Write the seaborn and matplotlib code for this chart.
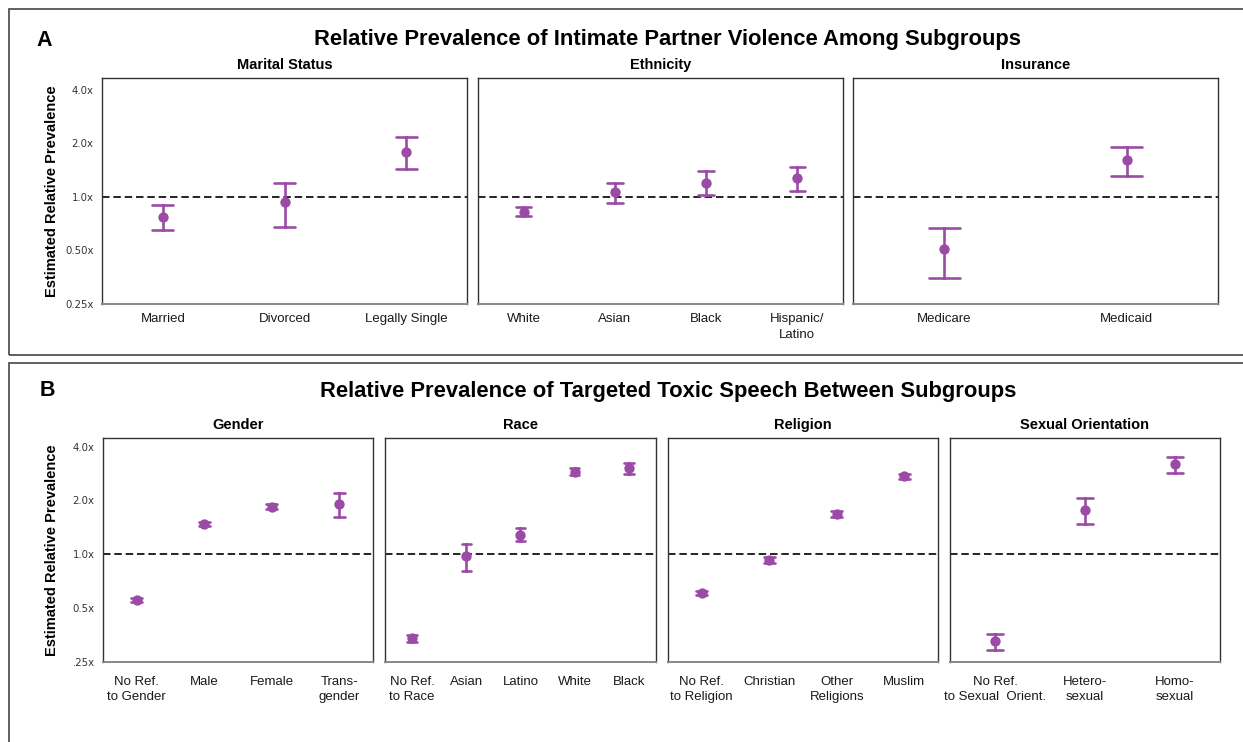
import numpy as np
import pandas as pd
import matplotlib
matplotlib.use("Agg")
import matplotlib.pyplot as plt
from matplotlib.patches import Rectangle
import seaborn as sns

# ---- data (estimate, lower bound, upper bound) ----
marital_labels = ["Married", "Divorced", "Legally Single"]
marital_est = [0.775, 0.933, 1.79]
marital_lo = [0.649, 0.675, 1.43]
marital_hi = [0.905, 1.19, 2.18]

ethnicity_labels = ["White", "Asian", "Black", "Hispanic/\nLatino"]
ethnicity_est = [0.823, 1.07, 1.20, 1.28]
ethnicity_lo = [0.779, 0.93, 1.026, 1.08]
ethnicity_hi = [0.876, 1.20, 1.40, 1.475]

insurance_labels = ["Medicare", "Medicaid"]
insurance_est = [0.51, 1.61]
insurance_lo = [0.349, 1.31]
insurance_hi = [0.672, 1.91]

gender_labels = ["No Ref.\nto Gender", "Male", "Female", "Trans-\ngender"]
gender_est = [0.555, 1.48, 1.85, 1.91]
gender_lo = [0.54, 1.445, 1.785, 1.62]
gender_hi = [0.57, 1.515, 1.91, 2.2]

race_labels = ["No Ref.\nto Race", "Asian", "Latino", "White", "Black"]
race_est = [0.340, 0.979, 1.29, 2.90, 3.02]
race_lo = [0.325, 0.81, 1.18, 2.78, 2.80]
race_hi = [0.355, 1.14, 1.40, 3.03, 3.24]

religion_labels = ["No Ref.\nto Religion", "Christian", "Other\nReligions", "Muslim"]
religion_est = [0.61, 0.929, 1.68, 2.73]
religion_lo = [0.59, 0.894, 1.62, 2.64]
religion_hi = [0.626, 0.965, 1.74, 2.83]

orient_labels = ["No Ref.\nto Sexual  Orient.", "Hetero-\nsexual", "Homo-\nsexual"]
orient_est = [0.326, 1.76, 3.19]
orient_lo = [0.291, 1.47, 2.86]
orient_hi = [0.36, 2.06, 3.48]

ticks = [0.25, 0.5, 1.0, 2.0, 4.0]
ticklabels_a = ["0.25x", "0.50x", "1.0x", "2.0x", "4.0x"]
ticklabels_b = [".25x", "0.5x", "1.0x", "2.0x", "4.0x"]

PURPLE = "#9b4ba6"
W, H = 1243, 742

sns.set_style("white")
plt.rcParams["font.family"] = ["Liberation Sans", "DejaVu Sans"]
plt.rcParams["text.color"] = "black"
plt.rcParams["axes.labelcolor"] = "black"
plt.rcParams["axes.titlecolor"] = "black"


def long_frame(labels, est, lo, hi):
    # three rows per category: median -> estimate, 0-100 pi -> (lo, hi)
    rows = []
    for lab, e, l, h in zip(labels, est, lo, hi):
        for v in (l, e, h):
            rows.append({"group": lab, "value": v})
    return pd.DataFrame(rows)


def px_axes(fig, x0, x1, y0, y1):
    return fig.add_axes([x0 / W, 1 - y1 / H, (x1 - x0) / W, (y1 - y0) / H])


def draw_panel(ax, title, labels, est, lo, hi, ylim, first, tlabels, xpad):
    df = long_frame(labels, est, lo, hi)
    sns.pointplot(
        data=df, x="group", y="value", order=labels, ax=ax,
        estimator="median", errorbar=("pi", 100), capsize=0.17,
        color=PURPLE, linestyle="none", markers="o",
        markersize=6, linewidth=1.9,
    )
    ax.set_yscale("log", base=2)
    ax.set_ylim(*ylim)
    ax.set_xlim(-0.5, len(labels) - 0.5)
    ax.axhline(1.0, color="black", linestyle="--", linewidth=1.2, dashes=(4.5, 2.3), zorder=1)
    ax.set_xlabel("")
    ax.set_ylabel("")
    ax.set_title(title, fontsize=10.5, fontweight="bold", pad=6)
    ax.tick_params(axis="both", length=0)
    ax.tick_params(axis="x", pad=xpad, labelsize=9.5, labelcolor="#1a1a1a")
    for lbl in ax.get_xticklabels():
        lbl.set_linespacing(1.4)
    ax.set_yticks(ticks)
    ax.minorticks_off()
    if first:
        ax.set_yticklabels(tlabels, fontsize=7.3, color="#333333", family="DejaVu Sans")
        ax.tick_params(axis="y", pad=6)
    else:
        ax.set_yticklabels([])
    for side in ["top", "left", "right"]:
        ax.spines[side].set_color("#333333")
        ax.spines[side].set_linewidth(1.0)
    ax.spines["bottom"].set_color("#888888")
    ax.spines["bottom"].set_linewidth(1.4)


fig = plt.figure(figsize=(W / 100, H / 100), dpi=100)

# outer frames of the two panels
fig.patches.append(Rectangle((9 / W, 1 - 355 / H), 1.1, 346 / H, transform=fig.transFigure,
                             fill=False, edgecolor="#444444", linewidth=1.2))
fig.patches.append(Rectangle((9 / W, -0.1), 1.1, 0.1 + 1 - 363 / H, transform=fig.transFigure,
                             fill=False, edgecolor="#444444", linewidth=1.2))

# ---- panel A ----
ylim_a = (0.25, 4.69)
a_specs = [
    ("Marital Status", marital_labels, marital_est, marital_lo, marital_hi, 102, 467),
    ("Ethnicity", ethnicity_labels, ethnicity_est, ethnicity_lo, ethnicity_hi, 478, 843),
    ("Insurance", insurance_labels, insurance_est, insurance_lo, insurance_hi, 853, 1218),
]
for i, (t, lab, e, l, h, x0, x1) in enumerate(a_specs):
    ax = px_axes(fig, x0, x1, 77.5, 304)
    draw_panel(ax, t, lab, e, l, h, ylim_a, i == 0, ticklabels_a, 6.5)

fig.text(44 / W, 1 - 40 / H, "A", fontsize=15.5, fontweight="bold", ha="center", va="center")
fig.text(668 / W, 1 - 40 / H, "Relative Prevalence of Intimate Partner Violence Among Subgroups",
         fontsize=15.8, fontweight="bold", ha="center", va="center")
fig.text(52 / W, 1 - 190.7 / H, "Estimated Relative Prevalence", rotation=90,
         fontsize=10.5, fontweight="bold", ha="center", va="center")

# ---- panel B ----
ylim_b = (0.25, 4.5)
b_specs = [
    ("Gender", gender_labels, gender_est, gender_lo, gender_hi, 103, 373),
    ("Race", race_labels, race_est, race_lo, race_hi, 385, 656),
    ("Religion", religion_labels, religion_est, religion_lo, religion_hi, 668, 938),
    ("Sexual Orientation", orient_labels, orient_est, orient_lo, orient_hi, 950, 1220),
]
for i, (t, lab, e, l, h, x0, x1) in enumerate(b_specs):
    ax = px_axes(fig, x0, x1, 437.5, 662)
    draw_panel(ax, t, lab, e, l, h, ylim_b, i == 0, ticklabels_b, 10)

fig.text(47 / W, 1 - 391 / H, "B", fontsize=15.5, fontweight="bold", ha="center", va="center")
fig.text(668 / W, 1 - 391 / H, "Relative Prevalence of Targeted Toxic Speech Between Subgroups",
         fontsize=15.8, fontweight="bold", ha="center", va="center")
fig.text(52 / W, 1 - 550 / H, "Estimated Relative Prevalence", rotation=90,
         fontsize=10.5, fontweight="bold", ha="center", va="center")

fig.savefig("out.png", dpi=100, facecolor="white")
